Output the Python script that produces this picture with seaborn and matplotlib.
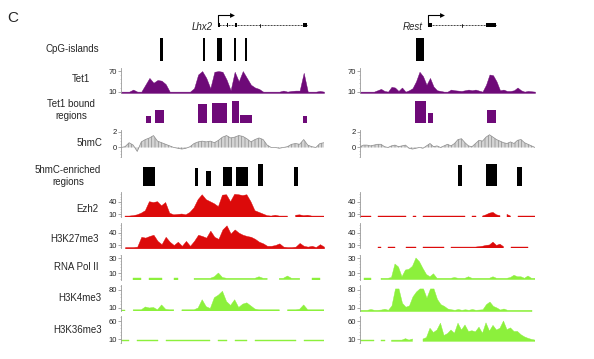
import numpy as np
import matplotlib
matplotlib.use("Agg")
import matplotlib.pyplot as plt
import seaborn as sns
from matplotlib.ticker import AutoMinorLocator
from matplotlib.patches import Rectangle

sns.set_style("white")
plt.rcParams['font.family'] = ['Liberation Sans', 'DejaVu Sans']
plt.rcParams['hatch.linewidth'] = 0.5

nan = np.nan
W, H = 594, 359

# bin positions along each locus (0-100 % of the window)
pos = np.arange(0, 101, 2)

# ---------------- signal tracks, left locus (Lhx2) ----------------
tet1_left = [10, 10, 10, 16, 10, 10, 30, 50, 36, 44, 42, 32, 10, 10, 10, 10, 10, 10, 20, 60,
             70, 50, 20, 68, 70, 68, 45, 14, 68, 40, 70, 50, 30, 22, 18, 10, 10, 10, 10, 10,
             13, 10, 12, 13, 13, 65, 10, 10, 10, 12, 10]
hmc_left = [0.0, 0.1, 0.6, 0.3, -0.5, 0.7, 1.0, 1.2, 1.5, 0.8, 0.6, 0.4, 0.2, 0.0, -0.1, -0.2, -0.1, 0.1, 0.5, 0.7,
            0.8, 0.7, 0.8, 0.6, 0.9, 1.3, 1.5, 1.2, 1.3, 1.5, 1.4, 1.1, 0.7, 1.0, 1.2, 1.0, 0.3, 0.0, 0.0, -0.1,
            0.0, 0.1, 0.4, 0.5, 0.4, 1.0, 0.3, 0.1, 0.0, 0.5, 0.6]
ezh2_left = [nan, 5, 5, 6, 8, 12, 18, 40, 38, 40, 30, 38, 12, 8, 9, 10, 8, 14, 25, 45,
             57, 45, 40, 35, 28, 56, 57, 40, 58, 57, 55, 57, 40, 18, 14, 10, 6, 5, 7, 5,
             5, 5, nan, 7, 8, 6, 7, 5, 5, 5, 5]
k27_left = [nan, 5, 5, 5, 6, 30, 28, 32, 35, 20, 12, 30, 18, 10, 18, 8, 20, 8, 20, 35,
            32, 28, 45, 30, 25, 48, 58, 38, 48, 40, 35, 32, 30, 25, 18, 14, 8, 8, 10, 14,
            6, 5, 5, 6, 15, 8, 6, 8, 5, 12, 6]
pol2_left = [nan, nan, nan, 3, 3, 3, nan, 3, 3, 3, 3, nan, nan, 3, 3, nan, nan, nan, 3, 3,
             3, 3, 3, 5, 10, 4, 3, 3, 3, 3, 3, 3, 3, 3, 5, 3, 3, nan, nan, 3,
             3, 6, 3, 3, 3, nan, nan, 3, 3, 3, nan]
k4_left = [3, 3, nan, 3, 3, 3, 14, 10, 12, 3, 22, 5, 3, 3, nan, 3, 3, 3, 3, 10,
           42, 15, 8, 50, 60, 75, 35, 20, 42, 12, 25, 30, 18, 6, 3, 3, 3, 3, 3, 3,
           nan, 3, 3, 3, 5, 22, 3, 3, 3, 3, 3]
k36_left = [7, 7, 7, nan, 7, 7, 7, 7, 7, 7, nan, 7, 7, 7, 7, 7, 7, 7, 7, 7,
            7, 7, 7, nan, 7, 7, 7, nan, 7, 7, 7, 7, nan, 7, 7, 7, 7, 7, 7, 7,
            7, 7, 7, 7, nan, 7, 7, 7, 7, 7, 7]

# ---------------- signal tracks, right locus (Rest) ----------------
tet1_right = [10, 10, 10, 10, 10, 14, 18, 12, 10, 24, 22, 12, 22, 10, 14, 20, 40, 68, 55, 30,
              50, 25, 14, 12, 10, 10, 16, 14, 13, 12, 14, 16, 14, 16, 13, 10, 30, 60, 58, 40,
              14, 16, 12, 12, 14, 22, 14, 10, 12, 11, 10]
hmc_right = [0.1, 0.3, 0.3, 0.2, 0.3, 0.4, 0.4, 0.1, 0.0, 0.2, 0.3, 0.1, 0.2, 0.3, -0.1, -0.2, -0.1, 0.0, -0.1, 0.2,
             0.5, 0.1, 0.2, 0.0, 0.2, 0.4, 0.2, 0.5, 1.0, 1.1, 0.6, 0.2, 0.1, 0.5, 0.9, 0.8, 1.3, 1.6, 1.3, 1.0,
             0.8, 0.6, 0.5, 0.7, 0.5, 0.9, 1.0, 0.6, 0.4, 0.2, 0.0]
ezh2_right = [5, 5, 5, 5, nan, 5, 5, 5, 5, 5, 5, 5, 5, 5, nan, 5, 5, nan, 5, 5,
              5, 5, 5, 5, 5, 5, 5, 5, 5, 5, 5, nan, 5, 5, nan, 5, 8, 12, 14, 8,
              6, nan, 9, 5, nan, 5, 5, 5, 5, 5, 5]
k27_right = [nan, nan, nan, nan, nan, 5, 5, nan, 5, 5, 5, nan, nan, 5, 5, 5, 5, nan, 5, 5,
             5, 5, 5, 5, 5, nan, 5, 5, 5, 5, 5, 5, 5, 5, 6, 7, 9, 10, 17, 9,
             12, 6, nan, 5, 5, 5, 5, 5, 5, nan, nan]
pol2_right = [nan, 3, 3, 3, nan, nan, 3, 3, 3, 4, 22, 18, 5, 14, 15, 19, 30, 25, 16, 8,
              5, 9, 3, 3, 3, 3, 3, 4, 3, 3, 3, 5, 3, 3, 3, 3, 3, 3, 5, 3,
              3, 3, 3, 4, 7, 5, 5, 3, 6, 3, 3]
k4_right = [3, 3, 3, 6, 3, 3, 4, 7, 3, 20, 86, 86, 30, 15, 20, 55, 74, 86, 86, 50,
            86, 86, 45, 25, 18, 8, 5, 3, 6, 3, 5, 3, 6, 3, 4, 5, 25, 35, 18, 12,
            4, 8, 3, 3, 3, 3, 3, 3, 3, 3, nan]
k36_right = [7, 7, 7, 7, 7, nan, 7, 7, nan, 7, 7, 7, 7, 11, 7, 10, nan, nan, 10, 14,
             40, 28, 35, 54, 20, 25, 35, 26, 54, 35, 49, 31, 33, 30, 43, 26, 55, 32, 48, 35,
             40, 60, 36, 41, 31, 31, 22, 16, 12, 9, 7]

# ---------------- interval tracks (start, end, score) ----------------
cpg_left_start = [19.2, 40.4, 47.3, 55.7, 61.1]
cpg_left_end = [20.7, 41.4, 49.8, 56.7, 62.1]
cpg_right_start = [32.0]
cpg_right_end = [36.6]

tet1b_left_start = [12.2, 16.7, 37.8, 45.0, 54.8, 58.8, 89.8]
tet1b_left_end = [14.6, 21.2, 42.4, 52.0, 58.3, 64.5, 91.5]
tet1b_left_score = [0.32, 0.58, 0.86, 0.9, 1.0, 0.36, 0.32]
tet1b_right_start = [31.4, 38.7, 72.4]
tet1b_right_end = [37.7, 41.9, 77.7]
tet1b_right_score = [1.0, 0.47, 0.58]

hmcr_left_start = [11.0, 36.5, 41.9, 50.4, 56.5, 67.3, 85.4]
hmcr_left_end = [16.7, 38.1, 44.3, 54.5, 62.7, 70.1, 87.3]
hmcr_left_score = [0.86, 0.8, 0.69, 0.86, 0.86, 1.0, 0.85]
hmcr_right_start = [56.2, 72.0, 89.5]
hmcr_right_end = [58.1, 78.5, 92.4]
hmcr_right_score = [0.95, 1.0, 0.85]

# ---------------- gene models ----------------
lhx2_span = (47.8, 91.6)
lhx2_exons = [(47.8, 48.6), (52.3, 52.9), (56.2, 57.2), (89.7, 91.6)]
lhx2_marks = [68.5]
rest_span = (38.9, 77.5)
rest_exons = [(38.9, 41.1), (71.8, 77.5)]
rest_marks = [58.1]

PURPLE = "#6e0a78"
RED = "#dc0a0a"
GREEN = "#8cf03c"
GREY = "#8c8c8c"

fig = plt.figure(figsize=(W / 100, H / 100), dpi=100)

LEFT = (121, 203)
RIGHT = (360, 175)


def px_axes(x0, w, y0, h):
    return fig.add_axes([x0 / W, 1 - (y0 + h) / H, w / W, h / H])


def style_signal(ax, ylim, ticks):
    ax.set_xlim(0, 100)
    ax.set_ylim(*ylim)
    ax.set_xticks([])
    ax.set_yticks(ticks)
    ax.set_yticklabels([str(t) for t in ticks])
    ax.yaxis.set_minor_locator(AutoMinorLocator(5))
    ax.tick_params(axis='y', which='major', length=2, width=0.5, pad=1,
                   labelsize=5.5, color='#888', labelcolor='#222', left=True)
    ax.tick_params(axis='y', which='minor', length=1, width=0.4, color='#aaa', left=True)
    sns.despine(ax=ax, top=True, right=True, bottom=True, left=False)
    ax.spines['left'].set_color('#999')
    ax.spines['left'].set_linewidth(0.6)
    ax.patch.set_alpha(0)


def draw_intervals(ax, starts, ends, scores, color):
    widths = np.array(ends) - np.array(starts)
    ax.bar(starts, scores, width=widths, align='edge', color=color, linewidth=0)
    ax.set_xlim(0, 100)
    ax.set_ylim(0, 1)
    ax.axis('off')


def draw_gene(ax, name, span, exons, marks, arrow_len, label_x):
    start, end = span
    ax.set_xlim(0, 100)
    ax.set_ylim(34, 8)
    ax.axis('off')
    ax.plot([start, end], [25, 25], color='k', lw=0.6, ls=(0, (1, 0.8)))
    for s, e in exons:
        ax.add_patch(Rectangle((s, 22.6), e - s, 4.8, color='k', lw=0))
    for m in marks:
        ax.plot([m, m], [23.5, 26.5], color='k', lw=0.6)
    ax.plot([start, start, start + arrow_len], [25, 14.5, 14.5], color='k', lw=0.8)
    ax.plot(start + arrow_len, 14.5, marker='>', color='k', ms=3.5, mew=0)
    ax.text(label_x, 26.5, name, style='italic', ha='right', va='center', fontsize=7)


# gene rows
for (x0, w), name, span, ex, mk, al, lx in [
        (LEFT, "Lhx2", lhx2_span, lhx2_exons, lhx2_marks, 7, 45.3),
        (RIGHT, "Rest", rest_span, rest_exons, rest_marks, 8, 36.0)]:
    draw_gene(px_axes(x0, w, 8, 26), name, span, ex, mk, al, lx)

# CpG islands
for (x0, w), st, en in [(LEFT, cpg_left_start, cpg_left_end),
                        (RIGHT, cpg_right_start, cpg_right_end)]:
    draw_intervals(px_axes(x0, w, 38, 23), st, en, [1] * len(st), 'k')

# Tet1 bound regions / 5hmC enriched regions
for (x0, w), st, en, sc in [(LEFT, tet1b_left_start, tet1b_left_end, tet1b_left_score),
                            (RIGHT, tet1b_right_start, tet1b_right_end, tet1b_right_score)]:
    draw_intervals(px_axes(x0, w, 101, 22), st, en, sc, PURPLE)
for (x0, w), st, en, sc in [(LEFT, hmcr_left_start, hmcr_left_end, hmcr_left_score),
                            (RIGHT, hmcr_right_start, hmcr_right_end, hmcr_right_score)]:
    draw_intervals(px_axes(x0, w, 164, 22), st, en, sc, 'k')

# coverage tracks
tracks = [
    (tet1_left, tet1_right, (6, 79), [10, 70], 68, 25, PURPLE),
    (ezh2_left, ezh2_right, (2.7, 63.7), [10, 40], 192, 25, RED),
    (k27_left, k27_right, (2.7, 63.7), [10, 40], 223, 25, RED),
    (pol2_left, pol2_right, (0.7, 34), [10, 30], 255, 25, GREEN),
    (k4_left, k4_right, (-1.7, 99.4), [10, 80], 285, 26, GREEN),
    (k36_left, k36_right, (-1.1, 74), [10, 60], 316, 27, GREEN),
]
for lv, rv, ylim, ticks, top, h, col in tracks:
    for (x0, w), vals in [(LEFT, lv), (RIGHT, rv)]:
        vals = np.array(vals, dtype=float)
        assert len(vals) == len(pos)
        ax = px_axes(x0, w, top, h)
        floor = np.nanmin(vals) - 1.3 * (ylim[1] - ylim[0]) / h
        ax.fill_between(pos, floor, vals, color=col, lw=0.3, edgecolor=col)
        style_signal(ax, ylim, ticks)

# 5hmC difference track
for (x0, w), vals in [(LEFT, hmc_left), (RIGHT, hmc_right)]:
    vals = np.array(vals, dtype=float)
    assert len(vals) == len(pos)
    ax = px_axes(x0, w, 130, 27)
    ax.fill_between(pos, 0, vals, facecolor='#d4d4d4', edgecolor=GREY, hatch='|||||', lw=0)
    ax.plot(pos, vals, color=GREY, lw=0.5)
    style_signal(ax, (-1.2, 2.2), [0, 2])

# row labels
labels = [
    ("CpG-islands", 72, 49),
    ("Tet1", 81, 79),
    ("Tet1 bound\nregions", 71, 110),
    ("5hmC", 89, 143),
    ("5hmC-enriched\nregions", 68, 176),
    ("Ezh2", 87.5, 209),
    ("H3K27me3", 74.5, 239),
    ("RNA Pol II", 76.5, 267),
    ("H3K4me3", 80, 298),
    ("H3K36me3", 77.5, 330),
]
for txt, x, y in labels:
    fig.text(x / W, 1 - y / H, txt, ha='center', va='center', fontsize=7, linespacing=1.25)

fig.text(7 / W, 1 - 18 / H, "C", ha='left', va='center', fontsize=11)

fig.savefig("out.png", dpi=100)
